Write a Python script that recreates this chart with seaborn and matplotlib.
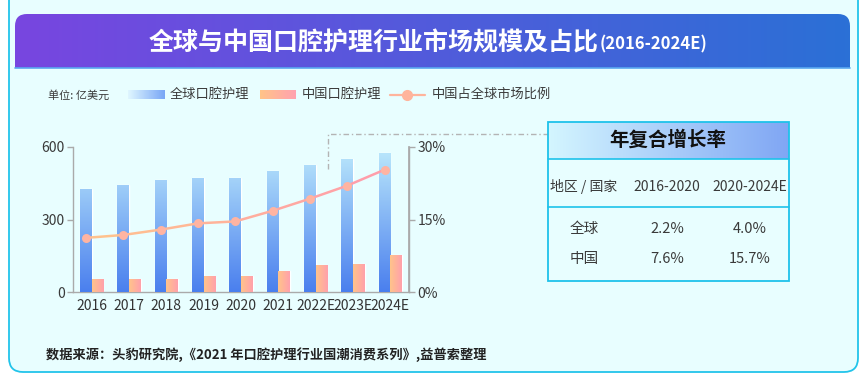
import numpy as np
import matplotlib
matplotlib.use("Agg")
import matplotlib.pyplot as plt
import seaborn as sns
import pandas as pd
from matplotlib.patches import FancyBboxPatch, Rectangle
from matplotlib.collections import LineCollection
from matplotlib.colors import LinearSegmentedColormap, to_rgb

# data
years = ["2016", "2017", "2018", "2019", "2020", "2021", "2022E", "2023E", "2024E"]
global_size = [428, 444, 465, 473, 473, 502, 527, 552, 577]
china_size = [55, 55, 55, 68, 68, 88, 113, 117, 154]
china_share = [11.2, 11.8, 12.9, 14.2, 14.6, 16.8, 19.3, 22.0, 25.3]

cagr_periods = ["2016-2020", "2020-2024E"]
cagr_regions = ["全球", "中国"]
cagr_global = ["2.2%", "4.0%"]
cagr_china = ["7.6%", "15.7%"]

sns.set_theme(style="white")
plt.rcParams["font.family"] = ["Noto Sans CJK SC", "DejaVu Sans"]

W, H = 868, 382
fig = plt.figure(figsize=(W / 100, H / 100), dpi=100)
fig.patch.set_facecolor("white")

# background / decoration layer in pixel coordinates
bg = fig.add_axes([0, 0, 1, 1], zorder=0)
bg.axis("off")


def hgrad(ax, x0, x1, y0, y1, c0, c1, clip=None, n=256, vertical=False, z=1):
    cmap = LinearSegmentedColormap.from_list("g", [c0, c1])
    arr = np.linspace(0, 1, n)
    arr = arr.reshape(-1, 1) if vertical else arr.reshape(1, -1)
    im = ax.imshow(arr, cmap=cmap, extent=(x0, x1, y1, y0), aspect="auto",
                   interpolation="bicubic", zorder=z)
    if clip is not None:
        im.set_clip_path(clip)
    return im


outer = FancyBboxPatch((9, -30), 849, 402, boxstyle="round,pad=0,rounding_size=14",
                       fc="#e8feff", ec="#22c4ea", lw=1.3, zorder=0)
bg.add_patch(outer)

banner = FancyBboxPatch((15, 14), 835, 80, boxstyle="round,pad=0,rounding_size=12",
                        fc="none", ec="none")
bg.add_patch(banner)
hgrad(bg, 15, 850, 14, 68, "#7846e0", "#2b70d6", clip=banner, z=1)
bg.plot([15, 850], [68, 68], color="#5aa8f0", lw=1.2, zorder=2)
bg.text(599, 43, "全球与中国口腔护理行业市场规模及占比", color="white", fontsize=18,
        fontweight="bold", ha="right", va="center", zorder=3)
bg.text(600, 44, "(2016-2024E)", color="white", fontsize=12, fontweight="bold",
        ha="left", va="center", zorder=3)

# legend
txt = "#3a3a3a"
bg.text(48, 95, "单位: 亿美元", fontsize=8, color=txt, va="center")
hgrad(bg, 128, 165, 90, 99, "#e0f7ff", "#78a6f6", z=2)
bg.text(170, 94, "全球口腔护理", fontsize=9.5, color=txt, va="center")
hgrad(bg, 260, 296, 90, 99, "#ffc488", "#ffa2b0", z=2)
bg.text(302, 94, "中国口腔护理", fontsize=9.5, color=txt, va="center")
bg.plot([390, 425], [94.5, 94.5], color="#ffb49c", lw=1.6, zorder=2)
bg.plot([407], [94.5], "o", color="#ffb49c", ms=7, zorder=3)
bg.text(432, 94, "中国占全球市场比例", fontsize=9.5, color=txt, va="center")

# connector to table
bg.plot([328, 328, 548], [169, 134, 134], color="#b4b4b4", lw=1,
        ls=(0, (4, 2, 1, 2)), zorder=2)

# CAGR table
tx0, tx1, ty0, ty1 = 548, 789, 122, 281
hgrad(bg, tx0, tx1, ty0, 159, "#d4f6ff", "#80a6f4", z=2)
bg.add_patch(Rectangle((tx0, ty0), tx1 - tx0, ty1 - ty0, fc="none", ec="#1ec2ea",
                       lw=1.3, zorder=4))
bg.plot([tx0, tx1], [159, 159], color="#1ec2ea", lw=1.2, zorder=4)
bg.plot([tx0, tx1], [207, 207], color="#1ec2ea", lw=1.2, zorder=4)
bg.text(668, 140, "年复合增长率", fontsize=14, fontweight="bold", color="#111111",
        ha="center", va="center", zorder=5)
col_x = [584, 667, 750]
for x, s in zip(col_x, ["地区 / 国家"] + cagr_periods):
    bg.text(x, 187, s, fontsize=10, fontweight="medium", color=txt,
            ha="center", va="center", zorder=5)
for y, region, vals in zip([229, 259], cagr_regions, [cagr_global, cagr_china]):
    for x, s in zip(col_x, [region] + vals):
        bg.text(x, y, s, fontsize=10.5, fontweight="medium", color=txt,
                ha="center", va="center", zorder=5)

bg.text(46, 355, "数据来源：头豹研究院,《2021 年口腔护理行业国潮消费系列》,益普索整理",
        fontsize=9.5, fontweight="bold", color="#222222", va="center")

bg.set_xlim(0, W)
bg.set_ylim(H, 0)

# main chart
ax = fig.add_axes([73 / W, 1 - 292 / H, 336 / W, 145 / H], zorder=2)
ax.set_facecolor("none")

df = pd.DataFrame({
    "year": years * 2,
    "value": global_size + china_size,
    "series": ["全球口腔护理"] * len(years) + ["中国口腔护理"] * len(years),
})
sns.barplot(data=df, x="year", y="value", hue="series", palette=["#4a82ef", "#ffb09a"],
            width=0.62, saturation=1, legend=False, ax=ax)

n = len(years)
for i, p in enumerate(ax.patches):
    x0, w, h = p.get_x(), p.get_width(), p.get_height()
    if i < n:
        hgrad(ax, x0, x0 + w, 0, 600, "#4a7fee", "#bdeafc", clip=p, vertical=True, z=3)
    else:
        hgrad(ax, x0, x0 + w, 0, h, "#ffc48a", "#ffa0ac", clip=p, z=3)

ax.set_xlim(-0.5, n - 0.5)
ax.set_ylim(0, 600)
ax.set_yticks([0, 300, 600])
ax.set_xlabel("")
ax.set_ylabel("")

gray = "#aaaaaa"
for s in ["left", "bottom", "right"]:
    ax.spines[s].set_color(gray)
    ax.spines[s].set_linewidth(1)
ax.spines["top"].set_visible(False)
ax.tick_params(axis="y", direction="out", length=4, width=1, color=gray,
               labelsize=10, labelcolor=txt, pad=2, left=True)
ax.tick_params(axis="x", length=0, labelsize=10, labelcolor="#333333", pad=5)
for lab in ax.get_xticklabels():
    lab.set_fontweight("medium")

# share line on the right axis
ax2 = ax.twinx()
xpos = np.arange(n) - 0.155
sns.lineplot(x=xpos, y=china_share, ax=ax2, color="#ffb09c", marker="o",
             markersize=6.5, markeredgewidth=0, lw=1.8, zorder=5)
ln = ax2.lines[0]
ln.set_linestyle("none")
pts = np.column_stack([xpos, china_share])
segs = np.stack([pts[:-1], pts[1:]], axis=1)
c0, c1 = np.array(to_rgb("#ffc28e")), np.array(to_rgb("#ff9eaa"))
cols = [c0 + (c1 - c0) * t for t in np.linspace(0, 1, len(segs))]
ax2.add_collection(LineCollection(segs, colors=cols, lw=1.8, zorder=4))
ln.set_color("#ffb4a2")

ax2.set_ylim(0, 30)
ax2.set_yticks([0, 15, 30])
ax2.set_yticklabels(["0%", "15%", "30%"])
ax2.set_xlim(-0.5, n - 0.5)
for s in ["left", "bottom", "top"]:
    ax2.spines[s].set_visible(False)
ax2.spines["right"].set_color(gray)
ax2.tick_params(axis="y", direction="out", length=4, width=1, color=gray,
                labelsize=10, labelcolor=txt, pad=2, right=True)

fig.savefig("out.png", dpi=100, facecolor=fig.get_facecolor())
